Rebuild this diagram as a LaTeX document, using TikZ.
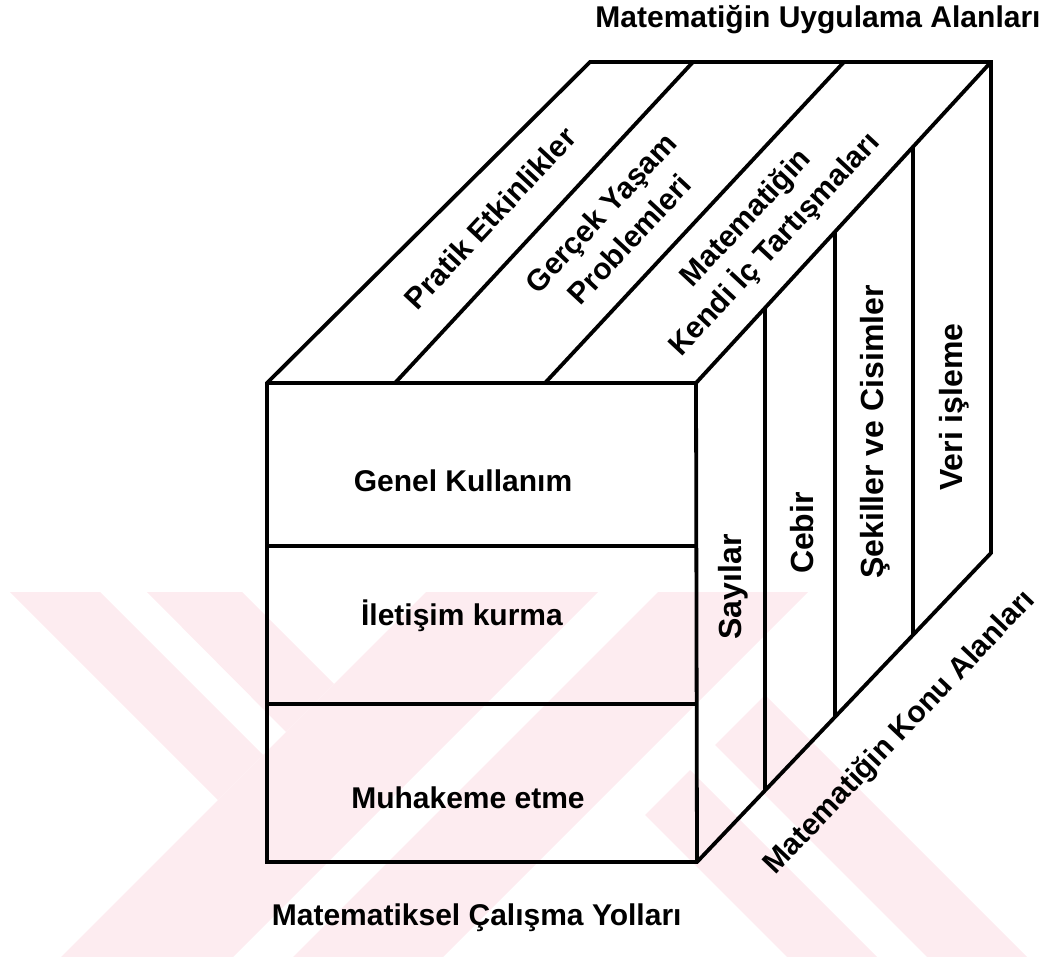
\documentclass[tikz,border=0pt]{standalone}
\usepackage{fontspec}
\setmainfont{Liberation Sans}
\usetikzlibrary{positioning, calc}
\definecolor{wmpink}{RGB}{253,236,240}

\begin{document}
\begin{tikzpicture}[x=0.5pt, y=-0.5pt, line width=1.9pt, line join=miter,
    lbl/.style={font=\bfseries\fontsize{15}{19.5}\selectfont, inner sep=0pt, align=center},
    sidelbl/.style={lbl, font=\bfseries\fontsize{16}{19.5}\selectfont, rotate=90, anchor=base}]
  \useasboundingbox (0,0) rectangle (1040,957);

  % watermark
  \begin{scope}
    \clip (0,592) rectangle (1040,957);
    \fill[wmpink] (10,592) -- (100,592) -- (263,755) -- (218,800) -- cycle;
    \fill[wmpink] (147,592) -- (242,592) -- (334,684) -- (286,732) -- cycle;
    \fill[wmpink] (426,592) -- (598,592) -- (233,957) -- (61,957) -- cycle;
    \fill[wmpink] (658,592) -- (808,592) -- (443,957) -- (293,957) -- cycle;
    \fill[wmpink] (645,815) -- (690,770) -- (877,957) -- (787,957) -- cycle;
    \fill[wmpink] (715,745) -- (765,695) -- (1027,957) -- (927,957) -- cycle;
  \end{scope}

  % cube
  \coordinate (ftl) at (267,383);
  \coordinate (ftr) at (696,383);
  \coordinate (fbr) at (697,862);
  \coordinate (fbl) at (267,862);
  \coordinate (btl) at (590,62);
  \coordinate (btr) at (991,62);
  \coordinate (bbr) at (991,553);

  \draw (fbl) -- (ftl) -- (btl) -- (btr) -- (bbr) -- (fbr) -- cycle;
  \draw (ftl) -- (ftr) -- (fbr);
  \draw (ftr) -- (btr);

  \draw (267,546) -- (697,546);
  \draw (267,704) -- (697,704);

  \draw (395,383) -- (693,62);
  \draw (545,383) -- (844,62);

  \draw (765,307) -- (765,790);
  \draw (835,231) -- (835,717);
  \draw (913,147) -- (913,635);

  % labels
  \node[lbl, anchor=base] (uygulama) at (818,28) {Matematiğin Uygulama Alanları};
  \node[lbl, anchor=base west] (calisma) at (270,925) {Matematiksel Çalışma Yolları};
  \node[lbl, rotate=46.5] (konu) at (900,733) {Matematiğin Konu Alanları};

  \node[lbl, anchor=base] (genel) at (463,492) {Genel Kullanım};
  \node[lbl, anchor=base] (iletisim) at (462,625) {İletişim kurma};
  \node[lbl, anchor=base] (muhakeme) at (468,808) {Muhakeme etme};

  \node[sidelbl] (sayilar) at (741,587) {Sayılar};
  \node[sidelbl] (cebir) at (813,533) {Cebir};
  \node[sidelbl] (sekiller) at (883,432) {Şekiller ve Cisimler};
  \node[sidelbl] (veri) at (962,407) {Veri işleme};

  \node[lbl, rotate=47] (pratik) at (490,218) {Pratik Etkinlikler};
  \node[lbl, rotate=47] (gercek) at (615,226) {Gerçek Yaşam\\Problemleri};
  \node[lbl, rotate=47] (kendi) at (761,232) {Matematiğin\\Kendi İç Tartışmaları};
\end{tikzpicture}
\end{document}
